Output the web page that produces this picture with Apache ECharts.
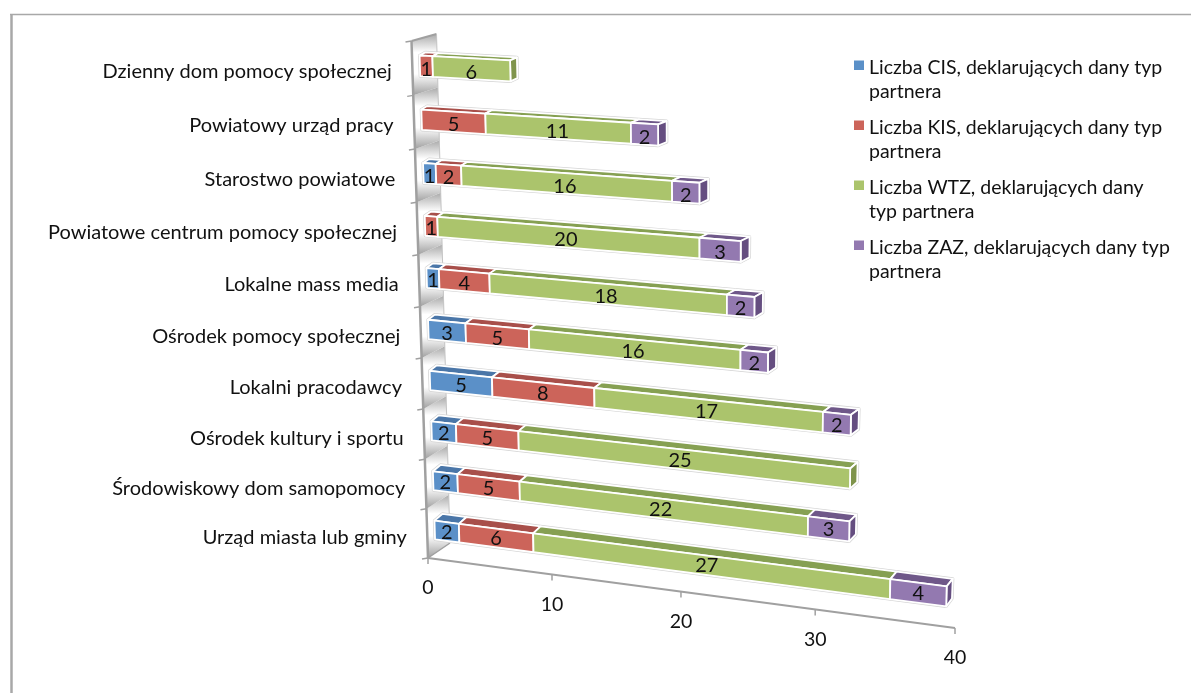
<!DOCTYPE html>
<html><head><meta charset="utf-8">
<style>html,body{margin:0;padding:0;background:#fff}#c{width:1191px;height:693px}</style>
<script src="https://cdn.jsdelivr.net/npm/echarts@6/dist/echarts.min.js"></script>
</head><body><div id="c"></div>
<script>
const categories = ['Urząd miasta lub gminy','Środowiskowy dom samopomocy','Ośrodek kultury i sportu','Lokalni pracodawcy','Ośrodek pomocy społecznej','Lokalne mass media','Powiatowe centrum pomocy społecznej','Starostwo powiatowe','Powiatowy urząd pracy','Dzienny dom pomocy społecznej'];
const cis = [2,2,2,5,3,1,0,1,0,0];
const kis = [6,5,5,8,5,4,1,2,5,1];
const wtz = [27,22,25,17,16,18,20,16,11,6];
const zaz = [4,3,0,2,2,2,3,2,2,0];
const seriesNames = ['Liczba CIS, deklarujących dany typ\npartnera','Liczba KIS, deklarujących dany typ\npartnera','Liczba WTZ, deklarujących dany\ntyp partnera','Liczba ZAZ, deklarujących dany typ\npartnera'];
const valueTicks = [0,10,20,30,40];

const frontColors = ['#5b90c8','#cc645a','#abc46c','#9379b0'];
const topColors = ['#4a76a8','#a84f4a','#86a052','#6f5889'];
const sideColors = ['#4a76a8','#a84f4a','#7f944c','#654e80'];
const FONT = 'Lato, Carlito, sans-serif';
const G = {left:100, top:40, width:800, height:500};
// corners of the bars' front plane on screen: (0,bottom) (40,bottom) (40,top) (0,top)
const Q = [[435.5,553],[960,623],[975,65.5],[419,37]];
const H = (function(){
  const [[x0,y0],[x1,y1],[x2,y2],[x3,y3]] = Q;
  const dx1=x1-x2,dx2=x3-x2,sx=x0-x1+x2-x3,dy1=y1-y2,dy2=y3-y2,sy=y0-y1+y2-y3;
  const den=dx1*dy2-dx2*dy1, g=(sx*dy2-dx2*sy)/den, h=(dx1*sy-sx*dy1)/den;
  return {a:x1-x0+g*x1,b:x3-x0+h*x3,c:x0,d:y1-y0+g*y1,e:y3-y0+h*y3,f:y0,g,h};
})();
function uw(p){return [(p[0]-G.left)/G.width,(G.top+G.height-p[1])/G.height];}
function proj(p){const [u,w]=uw(p);const d=H.g*u+H.h*w+1;return [(H.a*u+H.b*w+H.c)/d,(H.d*u+H.e*w+H.f)/d];}
function depth(p){const [u,w]=uw(p);
  const dx=(1-w)*((1-u)*8+u*5.5)+w*((1-u)*5.5+u*13), dy=(1-w)*((1-u)*-7+u*-8)+w*((1-u)*-3+u*-2.5);
  return [dx,dy];}
function back(p){const q=proj(p),d=depth(p);return [q[0]+d[0],q[1]+d[1]];}
function axisPt(p){const [u,w]=uw(p);const q=proj(p);return [q[0]-7.5+u*2.5-w*u*7,q[1]+5-w*1];}
function wallBack(p){const [u,w]=uw(p);const a=axisPt(p);return [a[0]+22+w*3,a[1]-15+w*8];}

function barGeom(api){
  const cat=api.value(0),a=api.coord([api.value(1),cat]),b=api.coord([api.value(2),cat]),band=api.size([0,1])[1];
  const bot=a[1]+band*0.22,top=a[1]-band*0.16;
  return {cat,x0:a[0],x1:b[0],bot,top};
}
function barRender(si){return function(params,api){
  const g=barGeom(api),last=api.value(3);
  const fl=[g.x0,g.bot],fr=[g.x1,g.bot],tl=[g.x0,g.top],tr=[g.x1,g.top];
  const poly=(pts,fill)=>({type:'polygon',shape:{points:pts},style:{fill,stroke:'#fff',lineWidth:1.8,lineJoin:'round'}});
  const children=[poly([back(tl),back(tr),proj(tr),proj(tl)],topColors[si])];
  if(last)children.push(poly([proj(tr),back(tr),back(fr),proj(fr)],sideColors[si]));
  children.push(poly([proj(tl),proj(tr),proj(fr),proj(fl)],frontColors[si]));
  const cx=(g.x0+g.x1)/2,c=proj([cx,(g.bot+g.top)/2]);
  children.push({type:'text',style:{text:String(api.value(2)-api.value(1)),x:c[0],y:c[1]+0.5+3*g.cat/9,align:'center',verticalAlign:'middle',font:'20px '+FONT,fill:'#111'}});
  return {type:'group',children};
};}
function haloRender(params,api){
  const g=barGeom(api);
  const tl=[g.x0,g.top],tr=[g.x1,g.top],fl=[g.x0,g.bot],fr=[g.x1,g.bot];
  return {type:'polygon',shape:{points:[proj(fl),proj(tl),back(tl),back(tr),back(fr),proj(fr)]},style:{fill:'#fff',stroke:'#d4d4d4',lineWidth:3.2,lineJoin:'round'}};
}
function wallRender(params,api){
  const cat=api.value(0),c=api.coord([0,cat]),band=api.size([0,1])[1];
  const p0=[c[0],c[1]+band/2],p1=[c[0],c[1]-band/2];
  const pts=[axisPt(p0),wallBack(p0),wallBack(p1),axisPt(p1)];
  return {type:'polygon',shape:{points:pts},style:{fill:{type:'linear',x:0,y:0,x2:0,y2:1,colorStops:[{offset:0,color:'#aaaaaa'},{offset:0.3,color:'#fff'},{offset:0.65,color:'#fff'},{offset:1,color:'#a0a0a0'}]}}};
}
function catLabelRender(params,api){
  const cat=api.value(0),c=api.coord([0,cat]),band=api.size([0,1])[1];
  const p=proj([c[0],c[1]+band*0.03]);
  return {type:'text',style:{text:categories[cat],x:p[0]-28,y:p[1]+5.5+(1-cat/9)*2.5,align:'right',verticalAlign:'middle',font:'20px '+FONT,fill:'#111'}};
}
const AX='#a0a0a0';
function axisRender(params,api){
  const y0=G.top+G.height,y1=G.top,x0=G.left;
  const ln=(a,b,w,col)=>({type:'line',shape:{x1:a[0],y1:a[1],x2:b[0],y2:b[1]},style:{stroke:col||AX,lineWidth:w}});
  const children=[];
  const xEnd=api.coord([40,0])[0];
  children.push(ln(axisPt([x0,y0]),axisPt([x0,y1]),2.5));
  children.push(ln(axisPt([x0,y0]),axisPt([xEnd,y0]),2));
  children.push(ln(axisPt([x0,y0]),wallBack([x0,y0]),1.5));
  children.push(ln(axisPt([x0,y1]),wallBack([x0,y1]),2));
  children.push(ln(wallBack([x0,y0]),wallBack([x0,y1]),1,'#c4c4c4'));
  for(let i=0;i<=categories.length;i++){
    const y=y0-(y0-y1)*i/categories.length,a=axisPt([x0,y]);
    children.push(ln(a,[a[0]-6,a[1]+1],1.5));
  }
  valueTicks.forEach(v=>{
    const a=axisPt([api.coord([v,0])[0],y0]);
    children.push(ln(a,[a[0],a[1]+6],1.5));
    children.push({type:'text',style:{text:String(v),x:a[0],y:a[1]+30,align:'center',verticalAlign:'middle',font:'19.5px '+FONT,fill:'#111'}});
  });
  return {type:'group',children};
}
const seriesData=[cis,kis,wtz,zaz];
const series=[];
const common={type:'custom',coordinateSystem:'cartesian2d',clip:false,silent:true,animation:false,encode:{x:[1,2],y:0}};
series.push(Object.assign({},common,{name:'wall',z:1,renderItem:wallRender,data:categories.map((_,i)=>[i,0,0])}));
series.push(Object.assign({},common,{name:'axes',z:2,renderItem:axisRender,data:[[0,0,40]]}));
series.push(Object.assign({},common,{name:'labels',z:2,renderItem:catLabelRender,data:categories.map((_,i)=>[i,0,0])}));
series.push(Object.assign({},common,{name:'halo',z:3,renderItem:haloRender,data:categories.map((_,i)=>[i,0,cis[i]+kis[i]+wtz[i]+zaz[i]])}));
seriesData.forEach((arr,si)=>{
  const data=[];
  arr.forEach((v,i)=>{
    if(!v)return;
    let s=0;for(let k=0;k<si;k++)s+=seriesData[k][i];
    let isLast=1;for(let k=si+1;k<4;k++)if(seriesData[k][i])isLast=0;
    data.push([i,s,s+v,isLast]);
  });
  series.push(Object.assign({},common,{name:seriesNames[si],z:4,itemStyle:{color:frontColors[si]},renderItem:barRender(si),data}));
});
const chart=echarts.init(document.getElementById('c'),null,{renderer:'canvas'});
chart.setOption({
  animation:false,backgroundColor:'#fff',
  grid:Object.assign({},G,{containLabel:false}),
  xAxis:{type:'value',min:0,max:40,interval:10,show:false},
  yAxis:{type:'category',data:categories,show:false},
  legend:{data:seriesNames,orient:'vertical',left:854,top:56,padding:0,itemWidth:10,itemHeight:48,itemGap:12,
    icon:'path://M0 0L0.01 0L0.01 0.01Z M0 4.5H10V14H0Z M0 48L0.01 48L0.01 47.99Z',
    selectedMode:false,textStyle:{fontFamily:FONT,fontSize:19.5,lineHeight:24,color:'#111'}},
  graphic:[
    {type:'line',shape:{x1:10,y1:14.5,x2:1191,y2:14.5},style:{stroke:'#a8a8a8',lineWidth:1.5},silent:true},
    {type:'line',shape:{x1:11.5,y1:14,x2:11.5,y2:693},style:{stroke:'#a8a8a8',lineWidth:2.5},silent:true}
  ],
  series
});
</script></body></html>
